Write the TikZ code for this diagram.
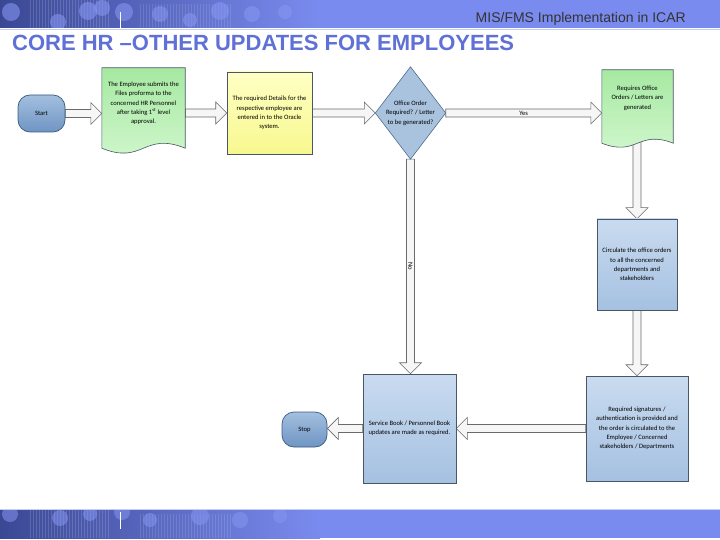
\documentclass[tikz,border=0pt]{standalone}
\usepackage{fontspec}
\setmainfont{Carlito}
\newfontfamily\arialfont{Liberation Sans}
\usetikzlibrary{calc}
\pgfdeclarelayer{paperlayer}
\pgfdeclarelayer{arrowlayer}
\pgfdeclarelayer{shapelayer}
\pgfsetlayers{paperlayer,arrowlayer,shapelayer,main}
\definecolor{bannerblue}{HTML}{7A8BEF}
\definecolor{bannerdark}{HTML}{3A4894}
\definecolor{bannerlite}{HTML}{8595F0}
\definecolor{titleblue}{HTML}{5F70D6}
\definecolor{boxtop}{HTML}{C9DBF0}
\definecolor{boxbot}{HTML}{A5C1E1}
\definecolor{boxline}{HTML}{4A5666}
\definecolor{termtop}{HTML}{A3BFDF}
\definecolor{termbot}{HTML}{6F95C3}
\definecolor{termline}{HTML}{3C5A80}
\definecolor{yeltop}{HTML}{FFFFC4}
\definecolor{yelbot}{HTML}{F8F890}
\definecolor{grntop}{HTML}{A6E9A2}
\definecolor{grnbot}{HTML}{D2F7CE}
\definecolor{arrline}{HTML}{6A6A6A}
\definecolor{arrfill}{HTML}{F6F6F6}
\definecolor{dialine}{HTML}{4F6D8F}
\definecolor{diafill}{HTML}{A9C3DF}
\definecolor{ruleblue}{HTML}{C4CCF8}
\begin{document}
\begin{tikzpicture}[x=1pt,y=-1pt,
  every node/.style={font=\fontsize{6.6}{9.3}\selectfont, align=center, inner sep=0pt},
  termbox/.style={draw=termline, line width=0.7pt, top color=termtop, bottom color=termbot, rounded corners=12pt},
  doctext/.style={},
  yelbox/.style={draw=boxline, line width=0.6pt, top color=yeltop, bottom color=yelbot},
  bluebox/.style={draw=boxline, line width=0.6pt, top color=boxtop, bottom color=boxbot},
  diatext/.style={},
  docshape/.style={draw=boxline, line width=0.6pt, top color=grntop, bottom color=grnbot},
  diashape/.style={draw=dialine, line width=0.6pt, fill=diafill},
  lbl/.style={font=\fontsize{6.6}{8}\selectfont},
  barrow/.style={draw=arrline, fill=arrfill, line width=0.6pt, line join=miter,
    to path={
      ($(\tikztotarget)!11pt!(\tikztostart)$) coordinate (bah)
      ($(\tikztostart)!4pt!90:(\tikztotarget)$) --
      ($(bah)!4pt!-90:(\tikztostart)$) --
      ($(bah)!11pt!-90:(\tikztostart)$) --
      (\tikztotarget) --
      ($(bah)!11pt!90:(\tikztostart)$) --
      ($(bah)!4pt!90:(\tikztostart)$) --
      ($(\tikztostart)!4pt!-90:(\tikztotarget)$) -- cycle
    }}
]
\useasboundingbox (0,0) rectangle (720,540);
\begin{pgfonlayer}{paperlayer}
  \fill[white] (0,0) rectangle (720,540);
\end{pgfonlayer}

% ---- top banner ----
\fill[bannerblue] (0,0) rectangle (720,28);
\shade[left color=bannerdark, right color=bannerblue] (0,0) rectangle (320,28);
\begin{scope}
  \clip (0,0) rectangle (330,28);
  \foreach \gx in {30,33,...,110} \draw[white, opacity=0.15, line width=0.4pt] (\gx,0) -- (\gx,28);
  \foreach \gx in {140,143,...,230} \draw[white, opacity=0.12, line width=0.4pt] (\gx,4) -- (\gx,28);
  \foreach \cx/\cy/\rr in {11/12/9, 58/22/8, 88/11/9, 102/8/8, 124/12/9, 160/14/8, 190/20/7, 220/11/9, 252/14/8, 285/12/7}
    \fill[bannerlite, opacity=0.6] (\cx,\cy) circle (\rr pt);
\end{scope}
\draw[white, line width=1pt] (120,12) -- (120,28);
\draw[ruleblue, line width=1pt] (0,29.5) -- (720,29.5);
\node[anchor=base east, font=\arialfont\fontsize{14}{16}\selectfont, text=black!80] (hdr) at (686,23) {MIS/FMS Implementation in ICAR};
\node[anchor=base west, font=\arialfont\bfseries\fontsize{22}{24}\selectfont, text=titleblue] (title) at (12,51) {CORE HR –OTHER UPDATES FOR EMPLOYEES};

% ---- bottom banner ----
\fill[bannerblue] (0,510) rectangle (720,538);
\shade[left color=bannerdark, right color=bannerblue] (0,510) rectangle (320,538);
\begin{scope}
  \clip (0,510) rectangle (330,538);
  \foreach \gx in {30,33,...,110} \draw[white, opacity=0.15, line width=0.4pt] (\gx,510) -- (\gx,538);
  \foreach \gx in {140,143,...,230} \draw[white, opacity=0.12, line width=0.4pt] (\gx,514) -- (\gx,538);
  \foreach \cx/\cy/\rr in {10/514/8, 60/518/8, 90/514/7, 122/512/8, 150/520/7, 200/516/9, 240/520/8, 280/516/7}
    \fill[bannerlite, opacity=0.55] (\cx,\cy) circle (\rr pt);
\end{scope}
\draw[white, line width=1pt] (120,512) -- (120,529);
\draw[ruleblue, line width=0.8pt] (0,509.6) -- (720,509.6);

% ---- nodes ----
\node[termbox, minimum width=47, minimum height=37] (nstart) at (41.5,113.5) {Start};
\node[doctext, minimum width=83, minimum height=71] (doc1) at (143.5,103.5)
  {The Employee submits the\\Files proforma to the\\concerned HR Personnel\\after taking 1\textsuperscript{st} level\\approval.};
\node[yelbox, minimum width=85, minimum height=82] (yel) at (269.5,113)
  {The required Details for the\\respective employee are\\entered in to the Oracle\\system.};
\node[diatext, minimum width=70, minimum height=92] (dia) at (410.5,113)
  {Office Order\\Required? / Letter\\to be generated?};
\node[doctext, minimum width=71, minimum height=56] (doc2) at (637.5,98)
  {Requires Office\\Orders / Letters are\\generated};
\node[bluebox, minimum width=80, minimum height=91] (circ) at (637,264.5)
  {Circulate the office orders\\to all the concerned\\departments and\\stakeholders};
\node[bluebox, minimum width=102, minimum height=105] (sig) at (637,428.5)
  {Required signatures /\\authentication is provided and\\the order is circulated to the\\Employee / Concerned\\stakeholders / Departments};
\node[bluebox, minimum width=93, minimum height=109] (svc) at (409.5,428.5)
  {Service Book / Personnel Book\\updates are made as required.};
\node[termbox, minimum width=45, minimum height=35] (nstop) at (304.5,429.5) {Stop};

% ---- shapes drawn behind text ----
\begin{pgfonlayer}{shapelayer}
  \path[docshape] (doc1.north west) -- (doc1.north east) -- ($(doc1.south east)+(0,9)$)
    .. controls ($(doc1.south)+(0,-8)$) and ($(doc1.south)+(0,26)$) .. ($(doc1.south west)+(0,9)$) -- cycle;
  \path[docshape] (doc2.north west) -- (doc2.north east) -- ($(doc2.south east)+(0,17)$)
    .. controls ($(doc2.south)+(0,3)$) and ($(doc2.south)+(0,31)$) .. ($(doc2.south west)+(0,17)$) -- cycle;
  \path[diashape] (dia.north) -- (dia.east) -- (dia.south) -- (dia.west) -- cycle;
\end{pgfonlayer}

% ---- connectors ----
\coordinate (a1) at (nstart.east -| doc1.west);
\coordinate (a2) at (yel.west -| doc1.east);
\coordinate (a4) at (dia.east -| doc2.west);
\coordinate (a5) at (circ.north |- doc2.south);
\coordinate (a7) at (sig.west -| svc.east);
\coordinate (a8) at (svc.west -| nstop.east);
\coordinate (a9) at (dia.south |- svc.north);
\begin{pgfonlayer}{arrowlayer}
  \draw[barrow] (nstart.east) to (a1);
  \draw[barrow] (a2) to (yel.west);
  \draw[barrow] (yel.east) to (dia.west);
  \draw[barrow] (dia.east) to (a4);
  \draw[barrow] (a5) to (circ.north);
  \draw[barrow] (circ.south) to (sig.north);
  \draw[barrow] (sig.west) to (a7);
  \draw[barrow] (svc.west) to (a8);
  \draw[barrow] (dia.south) to (a9);
\end{pgfonlayer}
\node[lbl] (yes) at ($(dia.east)!0.5!(a4)$) {Yes};
\node[lbl, rotate=-90] (no) at ($(dia.south)!0.5!(a9)$) {No};
\end{tikzpicture}
\end{document}
